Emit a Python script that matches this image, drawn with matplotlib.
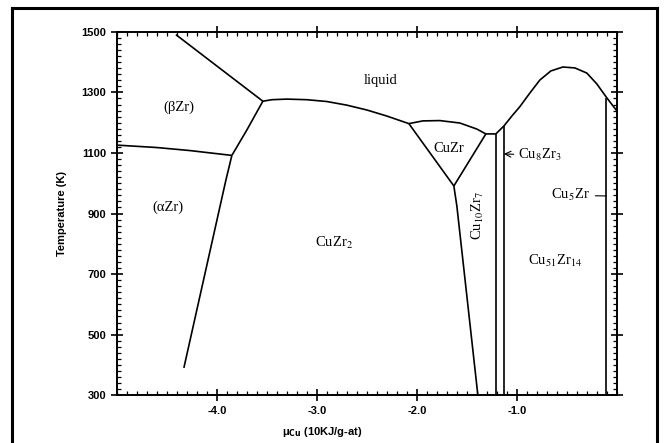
import numpy as np
import matplotlib.pyplot as plt
from matplotlib.lines import Line2D
from matplotlib.ticker import MultipleLocator

# phase boundaries: chemical potential of Cu (10 kJ/g-at) vs temperature (K)
beta_liq_mu = [-4.41, -3.54]
beta_liq_T = [1491, 1271]

liq_cuzr2_mu = [-3.54, -3.45, -3.30, -3.10, -2.90, -2.70, -2.50, -2.30, -2.08]
liq_cuzr2_T = [1271, 1276, 1278, 1276, 1270, 1258, 1242, 1222, 1197]

beta_alpha_mu = [-5.0, -4.60, -4.27, -3.85]
beta_alpha_T = [1126, 1118, 1108, 1092]

beta_cuzr2_mu = [-3.85, -3.70, -3.54]
beta_cuzr2_T = [1092, 1176, 1271]

alpha_cuzr2_mu = [-3.85, -3.91, -4.33]
alpha_cuzr2_T = [1092, 1010, 390]

cuzr2_cu10_mu = [-1.63, -1.60, -1.39]
cuzr2_cu10_T = [991, 925, 300]

cuzr_left_mu = [-2.08, -1.63]
cuzr_left_T = [1197, 991]
cuzr_right_mu = [-1.63, -1.31]
cuzr_right_T = [991, 1163]
cuzr_top_mu = [-2.08, -1.94, -1.77, -1.57, -1.40, -1.31, -1.21]
cuzr_top_T = [1197, 1206, 1207, 1199, 1179, 1163, 1163]

cu10_right_mu = [-1.21, -1.21]
cu10_right_T = [1163, 300]

cu8_mu = [-1.13, -1.13]
cu8_T = [1189, 300]

liq_right_mu = [-1.21, -1.13, -1.05, -0.97, -0.87, -0.77, -0.66, -0.54,
                -0.42, -0.30, -0.20, -0.10, 0.0]
liq_right_T = [1163, 1189, 1222, 1253, 1298, 1341, 1371, 1384,
               1381, 1364, 1328, 1282, 1239]

cu5_mu = [-0.105, -0.105]
cu5_T = [1281, 300]

boundaries = [
    (beta_liq_mu, beta_liq_T), (liq_cuzr2_mu, liq_cuzr2_T),
    (beta_alpha_mu, beta_alpha_T), (beta_cuzr2_mu, beta_cuzr2_T),
    (alpha_cuzr2_mu, alpha_cuzr2_T), (cuzr2_cu10_mu, cuzr2_cu10_T),
    (cuzr_left_mu, cuzr_left_T), (cuzr_right_mu, cuzr_right_T),
    (cuzr_top_mu, cuzr_top_T), (cu10_right_mu, cu10_right_T),
    (cu8_mu, cu8_T), (liq_right_mu, liq_right_T), (cu5_mu, cu5_T),
]

# region labels
labels = ['liquid', '(βZr)', '(αZr)', r'CuZr$_2$', 'CuZr',
          r'Cu$_{51}$Zr$_{14}$']
label_mu = [-2.36, -4.38, -4.49, -2.83, -1.68, -0.62]
label_T = [1340, 1252, 922, 802, 1116, 743]

fig = plt.figure(figsize=(6.64, 4.43), dpi=100)
ax = fig.add_axes([0.176, 0.108, 0.753, 0.820])

for mu, T in boundaries:
    ax.plot(mu, T, color='black', lw=1.2, solid_capstyle='butt',
            solid_joinstyle='round')

serif = dict(family='Liberation Serif', fontsize=10.5, math_fontfamily='stix',
             ha='center', va='center')
for lab, x, y in zip(labels, label_mu, label_T):
    ax.text(x, y, lab, **serif)
ax.text(-1.39, 892, r'Cu$_{10}$Zr$_7$', rotation=90, **serif)

ax.annotate(r'Cu$_8$Zr$_3$', xy=(-1.13, 1097), xytext=(-0.99, 1092),
            family='Liberation Serif', fontsize=10.5, math_fontfamily='stix',
            ha='left', va='center',
            arrowprops=dict(arrowstyle='->', lw=0.8, color='black',
                            shrinkA=1, shrinkB=0))
ax.annotate(r'Cu$_5$Zr', xy=(-0.105, 958), xytext=(-0.27, 960),
            family='Liberation Serif', fontsize=10.5, math_fontfamily='stix',
            ha='right', va='center',
            arrowprops=dict(arrowstyle='-', lw=0.8, color='black',
                            shrinkA=2, shrinkB=0))

ax.set_xlim(-5.0, 0.0)
ax.set_ylim(300, 1500)
ax.set_xticks([-4.0, -3.0, -2.0, -1.0])
ax.set_xticklabels(['-4.0', '-3.0', '-2.0', '-1.0'])
ax.set_yticks([300, 500, 700, 900, 1100, 1300, 1500])
ax.xaxis.set_minor_locator(MultipleLocator(0.1))
ax.yaxis.set_minor_locator(MultipleLocator(20))
ax.tick_params(which='major', direction='inout', length=9, width=1.2,
               top=True, right=True, labelsize=8, pad=3)
ax.tick_params(which='minor', direction='in', length=3, width=0.9,
               top=True, right=True)
for lab in ax.get_xticklabels() + ax.get_yticklabels():
    lab.set_family('Liberation Sans')
    lab.set_fontweight('bold')
for sp in ax.spines.values():
    sp.set_linewidth(1.4)

ax.set_ylabel('Temperature (K)', family='Liberation Sans', fontweight='bold',
              fontsize=8)
ax.yaxis.set_label_coords(-0.1, 0.5)
ax.set_xlabel(r'μ$_{\mathbf{Cu}}$ (10KJ/g-at)', family='Liberation Sans',
              fontweight='bold', fontsize=8, math_fontfamily='dejavusans')
ax.xaxis.set_label_coords(0.41, -0.083)

# outer frame of the scanned figure
fig.add_artist(Line2D([12 / 664, 12 / 664], [0, 1 - 8 / 443],
                      color='black', lw=2.2))
fig.add_artist(Line2D([657 / 664, 657 / 664], [0, 1 - 8 / 443],
                      color='black', lw=2.2))
fig.add_artist(Line2D([12 / 664, 657 / 664], [1 - 8 / 443, 1 - 8 / 443],
                      color='black', lw=2.2))

fig.savefig('out.png', dpi=100)
